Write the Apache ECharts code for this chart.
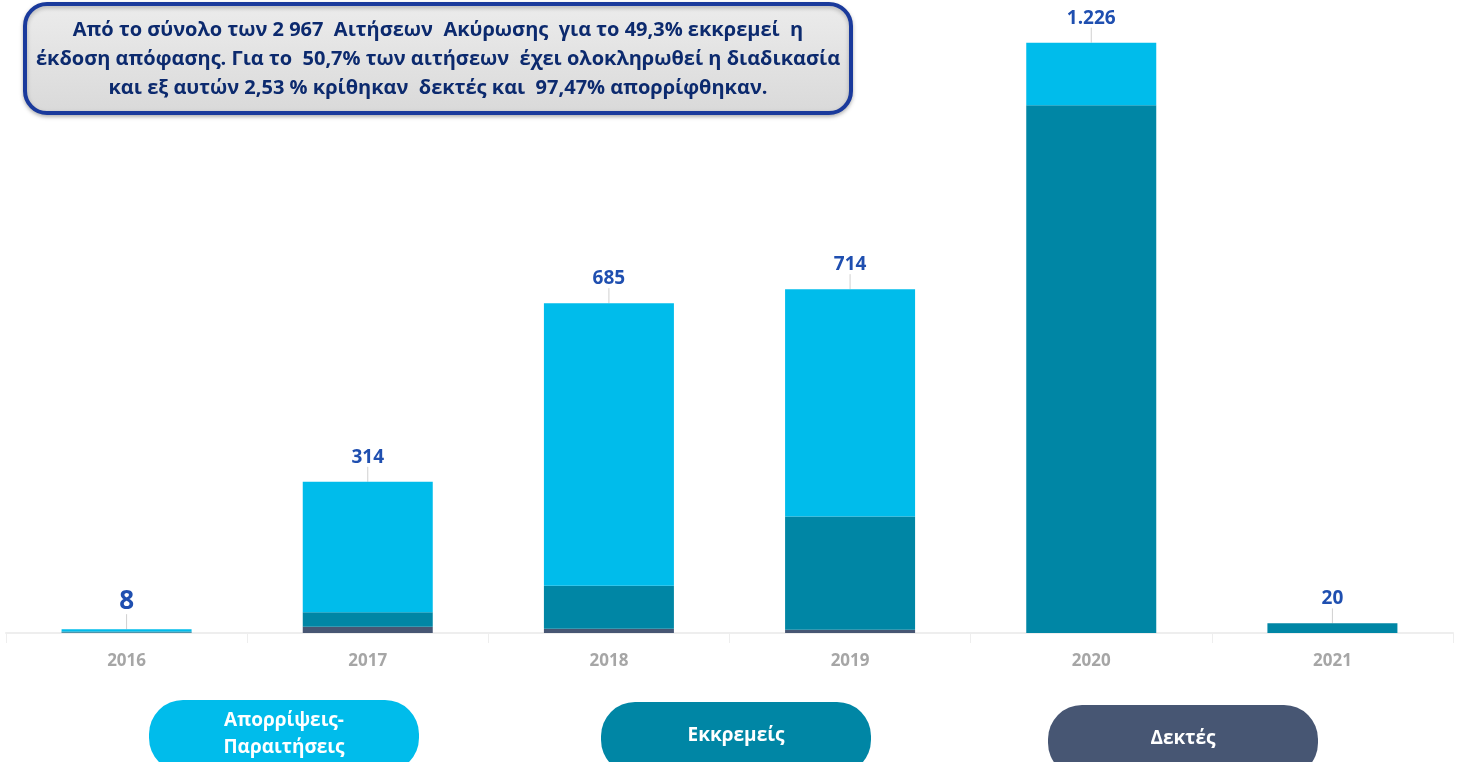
<!DOCTYPE html>
<html>
<head>
<meta charset="utf-8">
<script src="https://cdn.jsdelivr.net/npm/echarts@6/dist/echarts.min.js"></script>
<style>
  html, body { margin: 0; padding: 0; background: #fff; }
  #chart { width: 1459px; height: 762px; }
</style>
</head>
<body>
<div id="chart"></div>
<script>
const years = ['2016', '2017', '2018', '2019', '2020', '2021']
// Δεκτές / Εκκρεμείς / Απορρίψεις-Παραιτήσεις
const accepted = [1, 13, 9, 7, 0, 0]
const pending = [2, 30, 89, 235, 1096, 20]
const rejected = [5, 271, 587, 472, 130, 0]
const totals = [8, 314, 685, 714, 1226, 20]

const chart = echarts.init(document.getElementById('chart'))

const fmt = v => String(v).replace(/\B(?=(\d{3})+(?!\d))/g, '.')
const font = '"Open Sans", "Noto Sans", sans-serif'

const totalData = totals.map((t, i) => ({
  value: 0,
  label: {
    formatter: fmt(t),
    fontSize: i === 0 ? 26 : 19
  }
}))

function pill(cx, cy, color, text) {
  return {
    type: 'group',
    children: [
      {
        type: 'rect',
        shape: { x: cx - 135, y: cy - 34, width: 270, height: 72, r: 34 },
        style: { fill: color }
      },
      {
        type: 'text',
        x: cx,
        y: cy,
        style: {
          text: text,
          fill: '#fff',
          font: 'bold 19px ' + font,
          align: 'center',
          verticalAlign: 'middle',
          lineHeight: 27
        }
      }
    ]
  }
}

chart.setOption({
  animation: false,
  textStyle: { fontFamily: font },
  grid: { left: 6, right: 6, top: 7, bottom: 129 },
  xAxis: {
    type: 'category',
    data: years,
    axisLine: { lineStyle: { color: '#eeeeee', width: 2 } },
    axisTick: { show: true, length: 10, lineStyle: { color: '#eeeeee' } },
    axisLabel: { color: '#a6a6a6', fontWeight: 'bold', fontSize: 17, margin: 20 }
  },
  yAxis: {
    type: 'value',
    min: 0,
    max: 1300,
    show: false
  },
  series: [
    {
      name: 'Δεκτές',
      type: 'bar',
      stack: 'all',
      barWidth: 130,
      itemStyle: { color: '#475673' },
      data: accepted
    },
    {
      name: 'Εκκρεμείς',
      type: 'bar',
      stack: 'all',
      itemStyle: { color: '#0086a5' },
      data: pending
    },
    {
      name: 'Απορρίψεις-Παραιτήσεις',
      type: 'bar',
      stack: 'all',
      itemStyle: { color: '#00bceb' },
      data: rejected
    },
    {
      name: 'total',
      type: 'bar',
      stack: 'all',
      itemStyle: { color: 'transparent' },
      label: {
        show: true,
        position: 'top',
        distance: 5,
        color: '#1f4fb0',
        fontWeight: 'bold'
      },
      labelLayout: { dy: -10 },
      labelLine: { show: true, lineStyle: { color: '#d0d0d0', width: 1 } },
      data: totalData
    }
  ],
  graphic: [
    {
      type: 'rect',
      shape: { x: 25, y: 4, width: 826, height: 109, r: 22 },
      style: {
        fill: new echarts.graphic.LinearGradient(0, 0, 0, 1, [
          { offset: 0, color: '#ececec' },
          { offset: 1, color: '#d9d9d9' }
        ]),
        stroke: '#1a3a9c',
        lineWidth: 4,
        shadowColor: 'rgba(0,0,0,0.25)',
        shadowBlur: 4,
        shadowOffsetY: 2
      }
    },
    {
      type: 'text',
      x: 438,
      y: 59,
      style: {
        text: 'Από το σύνολο των 2 967  Αιτήσεων  Ακύρωσης  για το 49,3% εκκρεμεί  η\n' +
          'έκδοση απόφασης. Για το  50,7% των αιτήσεων  έχει ολοκληρωθεί η διαδικασία\n' +
          'και εξ αυτών 2,53 % κρίθηκαν  δεκτές και  97,47% απορρίφθηκαν.',
        fill: '#0c2a6e',
        font: 'bold 20px "Open Sans", sans-serif',
        align: 'center',
        verticalAlign: 'middle',
        lineHeight: 29
      }
    },
    pill(284, 734, '#00bceb', 'Απορρίψεις-\nΠαραιτήσεις'),
    pill(736, 736, '#0086a5', 'Εκκρεμείς'),
    pill(1183, 739, '#475673', 'Δεκτές')
  ]
})
</script>
</body>
</html>
